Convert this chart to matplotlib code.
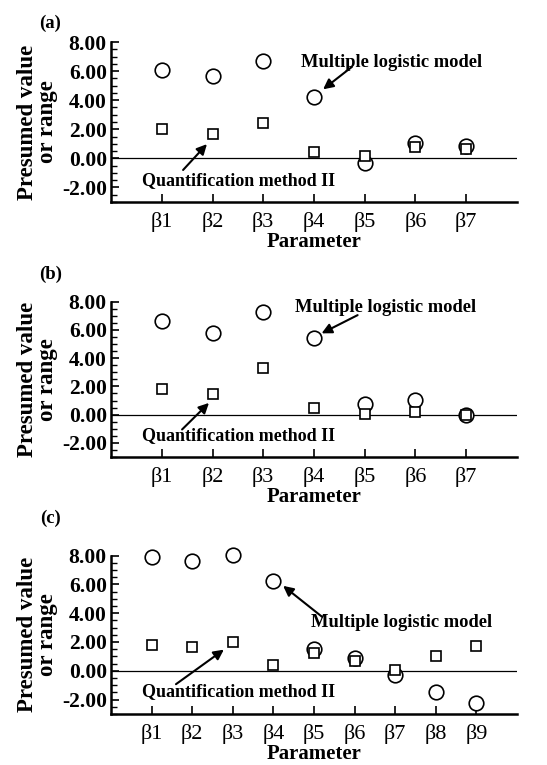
import numpy as np
import matplotlib.pyplot as plt
from matplotlib.ticker import MultipleLocator, FormatStrFormatter

plt.rcParams['font.family'] = ['Liberation Serif', 'DejaVu Serif']

# valores
params_7 = ['β1', 'β2', 'β3', 'β4', 'β5', 'β6', 'β7']
params_9 = ['β1', 'β2', 'β3', 'β4', 'β5', 'β6', 'β7', 'β8', 'β9']

logit_a = [6.05, 5.67, 6.7, 4.2, -0.3, 1.03, 0.87]
quant_a = [2.0, 1.66, 2.46, 0.46, 0.18, 0.78, 0.64]

logit_b = [6.6, 5.76, 7.3, 5.43, 0.74, 1.05, 0.0]
quant_b = [1.84, 1.43, 3.27, 0.48, 0.05, 0.21, 0.0]

logit_c = [7.88, 7.63, 8.05, 6.27, 1.49, 0.87, -0.28, -1.44, -2.26]
quant_c = [1.82, 1.68, 1.98, 0.4, 1.26, 0.68, 0.05, 1.03, 1.73]

panels = [
    ('(a)', 0.969, params_7, logit_a, quant_a, [0.203, 0.736, 0.742, 0.209],
     (5.53, 6.6), (4.75, 6.3), (4.18, 4.75),
     (2.52, -1.5), (1.42, -0.8), (1.89, 0.98)),
    ('(b)', 0.641, params_7, logit_b, quant_b, [0.203, 0.4026, 0.742, 0.203],
     (5.41, 7.6), (4.86, 7.05), (4.15, 5.76),
     (2.52, -1.5), (1.40, -1.05), (1.93, 0.83)),
    ('(c)', 0.323, params_9, logit_c, quant_c, [0.203, 0.0667, 0.742, 0.207],
     (7.17, 3.33), (5.2, 3.75), (4.24, 5.9),
     (3.15, -1.47), (1.6, -0.93), (2.78, 1.47)),
]

fig = plt.figure(figsize=(5.47, 7.65), dpi=100)

for (tag, tag_y, names, logit, quant, rect, ml_txt, ml_start, ml_tip,
     q_txt, q_start, q_tip) in panels:
    ax = fig.add_axes(rect)
    x = np.arange(1, len(names) + 1)

    ax.axhline(0, color='black', lw=0.9, zorder=1)
    ax.plot(x, logit, 'o', ms=10.5, mfc='white', mec='black', mew=1.2,
            zorder=3, clip_on=False)
    ax.plot(x, quant, 's', ms=7, mfc='white', mec='black', mew=1.2,
            zorder=4, clip_on=False)

    ax.set_xlim(0, len(names) + 1)
    ax.set_ylim(-3, 8)
    ax.set_xticks(x)
    ax.set_xticklabels(names, fontsize=16)
    ax.yaxis.set_major_locator(MultipleLocator(2))
    ax.yaxis.set_minor_locator(MultipleLocator(0.5))
    ax.yaxis.set_major_formatter(FormatStrFormatter('%.2f'))
    for lab in ax.get_yticklabels():
        lab.set_fontweight('bold')
        lab.set_fontsize(15.5)

    ax.tick_params(axis='both', direction='in', width=1.2, length=6)
    ax.tick_params(axis='y', which='minor', direction='in', width=1.0, length=4)
    ax.tick_params(axis='x', pad=7)
    ax.tick_params(axis='y', pad=3)

    for side in ['top', 'right']:
        ax.spines[side].set_visible(False)
    ax.spines['left'].set_linewidth(1.8)
    ax.spines['bottom'].set_linewidth(1.8)

    ax.set_xlabel('Parameter', fontsize=15, fontweight='bold', labelpad=0)
    ax.set_ylabel('Presumed value\nor range', fontsize=16.5, fontweight='bold',
                  linespacing=0.95, labelpad=3)

    arrow = dict(arrowstyle='-|>,head_length=0.6,head_width=0.3',
                 color='black', lw=1.5, shrinkA=0, shrinkB=0)
    ax.text(*ml_txt, 'Multiple logistic model', fontsize=13.3,
            fontweight='bold', ha='center', va='center')
    ax.annotate('', xy=ml_tip, xytext=ml_start, arrowprops=arrow)
    ax.text(*q_txt, 'Quantification method II', fontsize=13,
            fontweight='bold', ha='center', va='center')
    ax.annotate('', xy=q_tip, xytext=q_start, arrowprops=arrow)

    fig.text(0.092, tag_y, tag, fontsize=13.5, fontweight='bold',
             ha='center', va='center')

fig.savefig('out.png', dpi=100)
